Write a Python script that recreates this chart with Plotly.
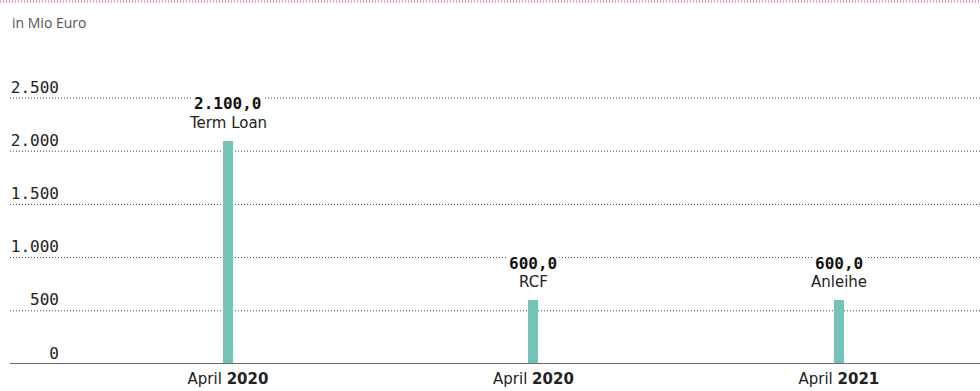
import plotly.graph_objects as go

# Financing instruments (in Mio Euro)
positions = [0, 1, 2]
instruments = ["Term Loan", "RCF", "Anleihe"]
months = ["April", "April", "April"]
years = ["2020", "2020", "2021"]
amounts = [2100.0, 600.0, 600.0]
value_labels = ["2.100,0", "600,0", "600,0"]

y_ticks = [0, 500, 1000, 1500, 2000, 2500]
y_tick_labels = ["0", "500", "1.000", "1.500", "2.000", "2.500"]

BAR_COLOR = "#74c2b8"
W, H = 980, 391
ML, MR, MT, MB = 64, 0, 90, 27
plot_w = W - ML - MR
plot_h = H - MT - MB
Y_MAX = 2575
X_MIN, X_MAX = -0.5368, 2.462


def paper_x(px):
    return (px - ML) / plot_w


def paper_y(py):
    return (H - MB - py) / plot_h


fig = go.Figure()
fig.add_trace(go.Bar(
    x=positions,
    y=amounts,
    width=0.033,
    marker=dict(color=BAR_COLOR, line=dict(width=0)),
    hoverinfo="skip",
))

# dotted gridlines running across the full width, including the label column
for t in y_ticks[1:]:
    fig.add_shape(type="line", xref="paper", yref="y",
                  x0=paper_x(10), x1=1, y0=t, y1=t,
                  line=dict(color="#444", width=1, dash="1px,2px"), layer="below")

# baseline
fig.add_shape(type="line", xref="paper", yref="y",
              x0=paper_x(10), x1=1, y0=0, y1=0,
              line=dict(color="#6e6e6e", width=2), layer="above")

# decorative dotted rule at the top
fig.add_shape(type="line", xref="paper", yref="paper",
              x0=paper_x(0), x1=1, y0=paper_y(1.5), y1=paper_y(1.5),
              line=dict(color="#ef6878", width=2, dash="1px,2px"))

# value and instrument name above each bar (white box masks the gridline)
for xp, v, lab, name in zip(positions, amounts, value_labels, instruments):
    fig.add_annotation(x=xp, y=v, xref="x", yref="y", text=f"<b>{lab}</b>",
                       showarrow=False, yanchor="middle", yshift=37,
                       bgcolor="white", borderpad=2,
                       font=dict(family="DejaVu Sans Mono", size=16, color="#111"))
    fig.add_annotation(x=xp, y=v, xref="x", yref="y", text=name,
                       showarrow=False, yanchor="middle", yshift=18,
                       font=dict(family="DejaVu Sans", size=15, color="#222"))

fig.add_annotation(x=paper_x(10), y=paper_y(22), xref="paper", yref="paper",
                   text="in Mio Euro", showarrow=False, xanchor="left", yanchor="middle",
                   font=dict(family="Open Sans", size=14, color="#555"))

fig.update_layout(
    width=W, height=H,
    margin=dict(l=ML, r=MR, t=MT, b=MB, pad=0),
    paper_bgcolor="white", plot_bgcolor="white",
    showlegend=False,
    bargap=0,
    xaxis=dict(
        range=[X_MIN, X_MAX],
        tickmode="array",
        tickvals=positions,
        ticktext=[f"{m} <b>{y}</b>" for m, y in zip(months, years)],
        showgrid=False, zeroline=False, showline=False,
        ticks="", ticklabelstandoff=4,
        tickfont=dict(family="DejaVu Sans", size=15, color="#222"),
        fixedrange=True,
    ),
    yaxis=dict(
        range=[0, Y_MAX],
        tickmode="array",
        tickvals=y_ticks,
        ticktext=y_tick_labels,
        showgrid=False, zeroline=False, showline=False,
        ticks="", ticklabelstandoff=4, ticklabelshift=-11,
        tickfont=dict(family="DejaVu Sans Mono", size=16, color="#222"),
        fixedrange=True,
    ),
)

fig.write_html("out.html")
